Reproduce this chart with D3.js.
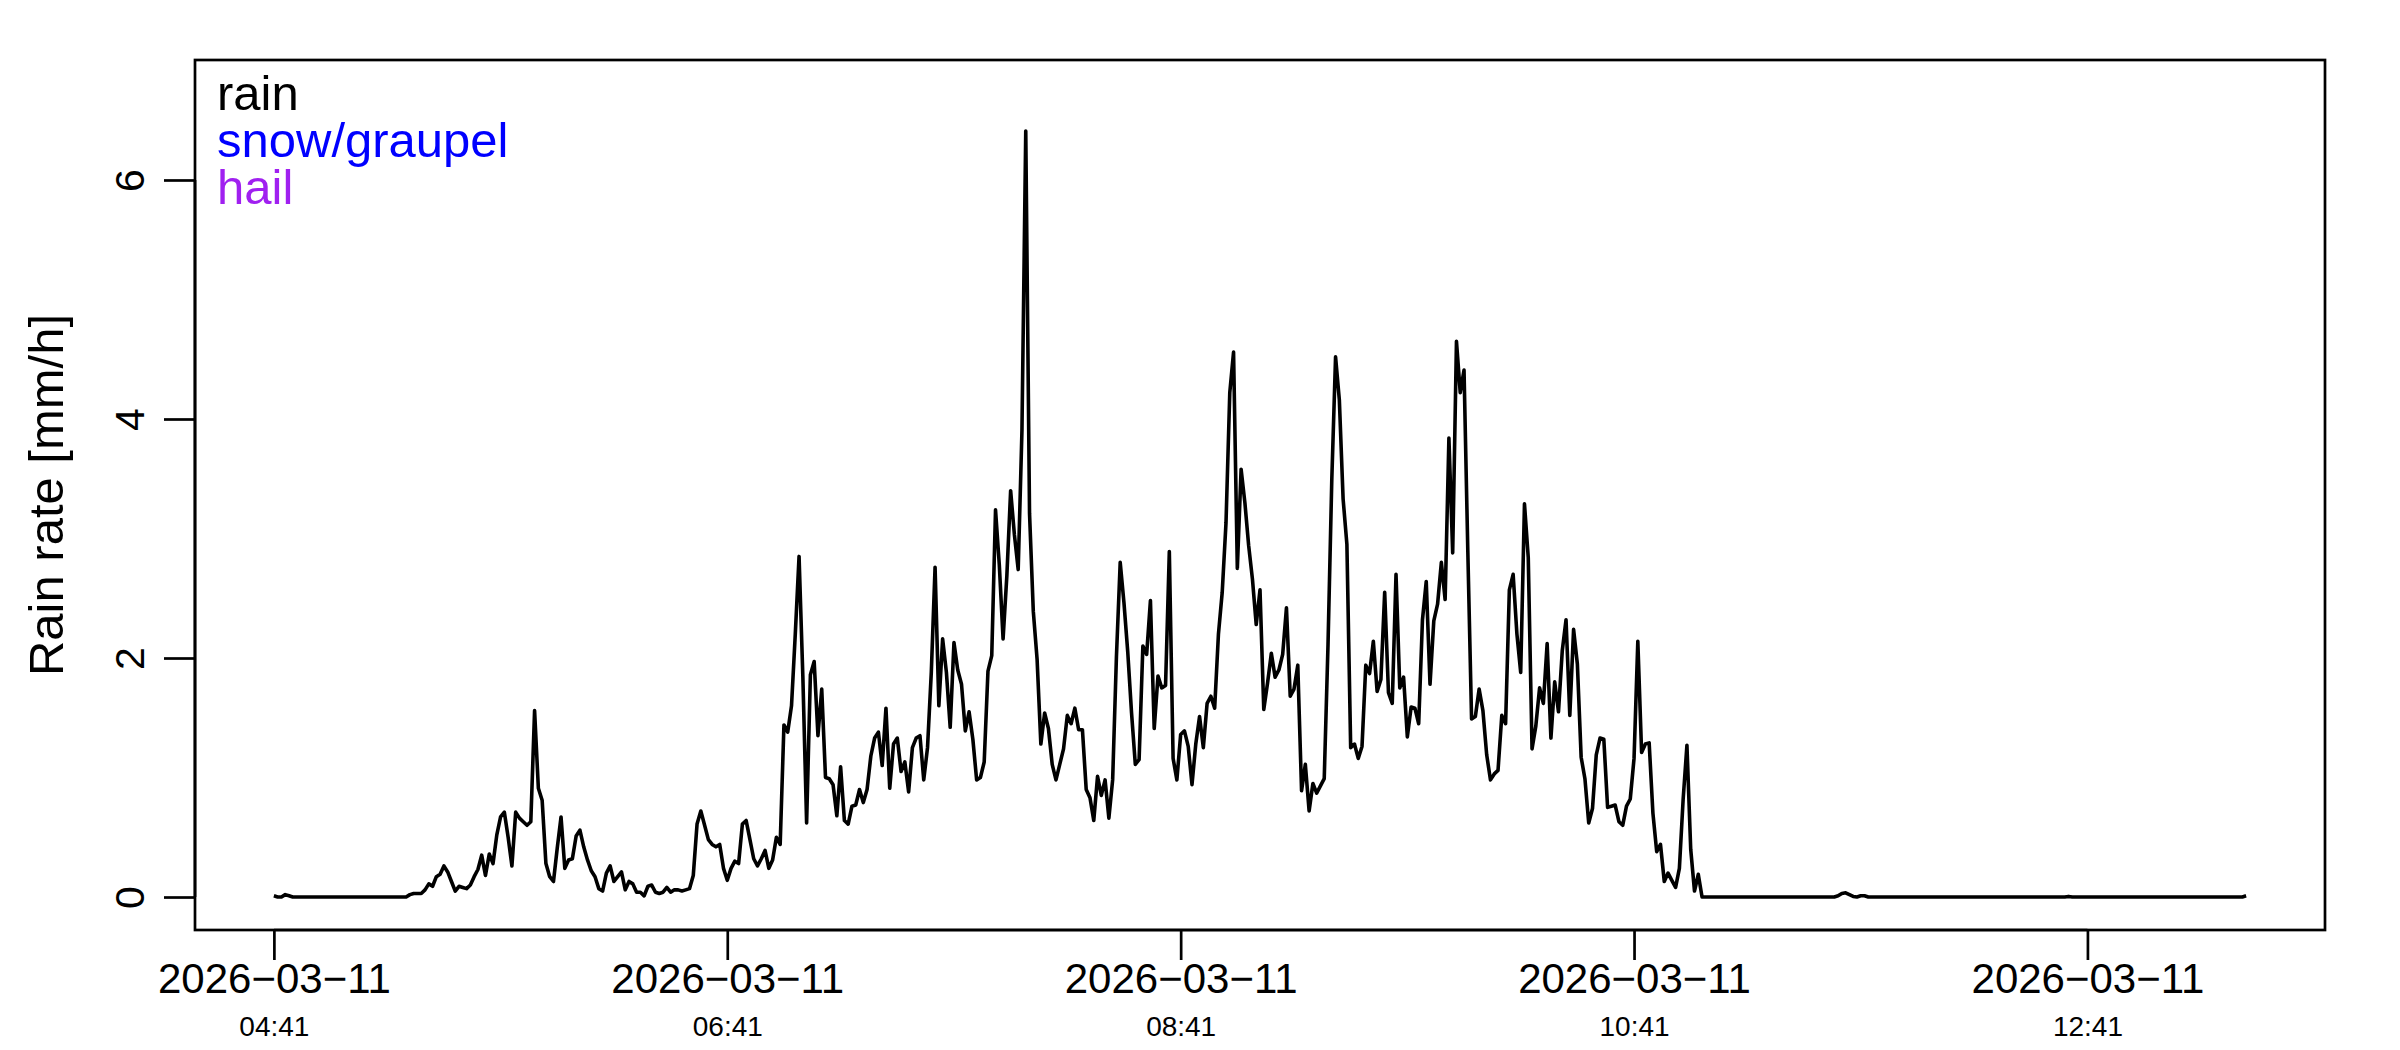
<!DOCTYPE html>
<html>
<head>
<meta charset="utf-8">
<script src="https://cdn.jsdelivr.net/npm/d3@7"></script>
<style>
  body { margin: 0; background: #fff; }
  svg { display: block; font-family: "Liberation Sans", Arial, Helvetica, sans-serif; }
</style>
</head>
<body>
<div id="chart"></div>
<script>
// one reading per minute, starting 2026-03-11 04:41
var startTime = "2026-03-11T04:41:00";
var rainRate = [
  0.01, 0.00, 0.00, 0.02, 0.01, 0, 0, 0, 0, 0,
  0, 0, 0, 0, 0, 0, 0, 0, 0, 0,
  0, 0, 0, 0, 0, 0, 0, 0, 0, 0,
  0, 0, 0, 0, 0, 0, 0.02, 0.03, 0.03, 0.03,
  0.06, 0.11, 0.09, 0.17, 0.19, 0.26, 0.21, 0.13, 0.05, 0.09,
  0.08, 0.07, 0.10, 0.17, 0.23, 0.35, 0.18, 0.36, 0.28, 0.52,
  0.67, 0.71, 0.50, 0.26, 0.71, 0.66, 0.63, 0.60, 0.63, 1.56,
  0.91, 0.81, 0.28, 0.17, 0.13, 0.41, 0.67, 0.24, 0.31, 0.32,
  0.51, 0.56, 0.42, 0.31, 0.22, 0.17, 0.07, 0.05, 0.20, 0.26,
  0.13, 0.17, 0.21, 0.06, 0.13, 0.11, 0.04, 0.04, 0.01, 0.09,
  0.10, 0.04, 0.03, 0.04, 0.08, 0.04, 0.06, 0.06, 0.05, 0.06,
  0.07, 0.18, 0.61, 0.72, 0.60, 0.48, 0.44, 0.42, 0.44, 0.24,
  0.14, 0.24, 0.30, 0.28, 0.61, 0.64, 0.48, 0.32, 0.26, 0.32,
  0.39, 0.24, 0.31, 0.50, 0.44, 1.44, 1.38, 1.60, 2.20, 2.85,
  1.85, 0.62, 1.86, 1.97, 1.35, 1.74, 1.00, 0.99, 0.94, 0.68,
  1.09, 0.64, 0.61, 0.76, 0.77, 0.90, 0.79, 0.90, 1.18, 1.33,
  1.38, 1.10, 1.58, 0.91, 1.28, 1.33, 1.05, 1.13, 0.88, 1.25,
  1.33, 1.35, 0.98, 1.25, 1.88, 2.76, 1.60, 2.16, 1.88, 1.42,
  2.13, 1.90, 1.78, 1.39, 1.55, 1.32, 0.98, 1.00, 1.13, 1.89,
  2.02, 3.24, 2.78, 2.16, 2.69, 3.40, 3.03, 2.74, 3.91, 6.41,
  3.21, 2.39, 1.99, 1.28, 1.54, 1.41, 1.11, 0.98, 1.11, 1.24,
  1.52, 1.45, 1.58, 1.40, 1.40, 0.90, 0.83, 0.64, 1.01, 0.85,
  0.98, 0.66, 0.98, 2.01, 2.80, 2.46, 2.05, 1.54, 1.11, 1.15,
  2.10, 2.03, 2.48, 1.41, 1.85, 1.75, 1.77, 2.89, 1.16, 0.98,
  1.36, 1.39, 1.26, 0.94, 1.28, 1.51, 1.25, 1.62, 1.68, 1.58,
  2.20, 2.55, 3.13, 4.22, 4.56, 2.75, 3.58, 3.30, 2.94, 2.66,
  2.28, 2.57, 1.57, 1.79, 2.04, 1.84, 1.90, 2.03, 2.42, 1.68,
  1.74, 1.94, 0.89, 1.11, 0.72, 0.95, 0.87, 0.93, 0.99, 2.11,
  3.49, 4.52, 4.16, 3.33, 2.95, 1.25, 1.28, 1.16, 1.26, 1.94,
  1.87, 2.14, 1.72, 1.82, 2.55, 1.71, 1.62, 2.70, 1.75, 1.84,
  1.34, 1.59, 1.58, 1.45, 2.32, 2.64, 1.78, 2.31, 2.45, 2.80,
  2.49, 3.84, 2.88, 4.65, 4.22, 4.41, 2.90, 1.49, 1.51, 1.74,
  1.56, 1.19, 0.98, 1.03, 1.06, 1.52, 1.45, 2.57, 2.70, 2.20,
  1.88, 3.29, 2.84, 1.24, 1.43, 1.75, 1.62, 2.12, 1.33, 1.80,
  1.55, 2.06, 2.32, 1.52, 2.24, 1.95, 1.17, 0.99, 0.62, 0.74,
  1.19, 1.33, 1.32, 0.75, 0.76, 0.77, 0.63, 0.60, 0.76, 0.82,
  1.16, 2.14, 1.21, 1.28, 1.29, 0.70, 0.38, 0.44, 0.13, 0.20,
  0.14, 0.08, 0.24, 0.82, 1.27, 0.40, 0.05, 0.19, 0, 0,
  0, 0, 0, 0, 0, 0, 0, 0, 0, 0,
  0, 0, 0, 0, 0, 0, 0, 0, 0, 0,
  0, 0, 0, 0, 0, 0, 0, 0, 0, 0,
  0, 0, 0, 0, 0.01, 0.03, 0.035, 0.02, 0.005, 0,
  0.01, 0.01, 0, 0, 0, 0, 0, 0, 0, 0,
  0, 0, 0, 0, 0, 0, 0, 0, 0, 0,
  0, 0, 0, 0, 0, 0, 0, 0, 0, 0,
  0, 0, 0, 0, 0, 0, 0, 0, 0, 0,
  0, 0, 0, 0, 0, 0, 0, 0, 0, 0,
  0, 0, 0, 0, 0, 0.005, 0, 0, 0, 0,
  0, 0, 0, 0, 0, 0, 0, 0, 0, 0,
  0, 0, 0, 0, 0, 0, 0, 0, 0, 0,
  0, 0, 0, 0, 0, 0, 0, 0, 0, 0,
  0, 0, 0, 0, 0, 0, 0, 0, 0, 0,
  0, 0, 0.01
];
var xTickTimes = ["2026-03-11T04:41:00", "2026-03-11T06:41:00", "2026-03-11T08:41:00",
                  "2026-03-11T10:41:00", "2026-03-11T12:41:00"];
var yTicks = [0, 2, 4, 6];
var legendLabels = ["rain", "snow/graupel", "hail"];
var legendColors = ["#000000", "#0000ff", "#a020f0"];
var yLabel = "Rain rate [mm/h]";

var width = 2400, height = 1050;
var box = { left: 195, right: 2325, top: 60, bottom: 930 };

var parseTime = d3.timeParse("%Y-%m-%dT%H:%M:%S");
var t0 = parseTime(startTime);
var series = rainRate.map(function(v, i) {
    return { time: d3.timeMinute.offset(t0, i), value: v };
});

// R style: 4% padding each side of the data range
var tExtent = d3.extent(series, function(d) { return d.time; });
var span = tExtent[1] - tExtent[0];
var xScale = d3.scaleTime()
    .domain([new Date(+tExtent[0] - span * 0.04), new Date(+tExtent[1] + span * 0.04)])
    .range([box.left, box.right]);

var yScale = d3.scaleLinear()
    .domain([-0.276, 7.004])
    .range([box.bottom, box.top]);

var svg = d3.select("#chart").append("svg")
    .attr("width", width)
    .attr("height", height);

// rain line
var line = d3.line()
    .x(function(d) { return xScale(d.time); })
    .y(function(d) { return yScale(d.value); });

svg.append("path")
    .datum(series)
    .attr("d", line)
    .attr("fill", "none")
    .attr("stroke", "#000")
    .attr("stroke-width", 3.6)
    .attr("stroke-linejoin", "round");

// plot frame
svg.append("rect")
    .attr("x", box.left)
    .attr("y", box.top)
    .attr("width", box.right - box.left)
    .attr("height", box.bottom - box.top)
    .attr("fill", "none")
    .attr("stroke", "#000")
    .attr("stroke-width", 2.7);

// X axis
var xTicks = xTickTimes.map(parseTime);
var fmtDate = d3.timeFormat("%Y\u2212%m\u2212%d");
var fmtClock = d3.timeFormat("%H:%M");

var xAxis = svg.append("g")
    .attr("transform", "translate(0," + box.bottom + ")")
    .call(d3.axisBottom(xScale).tickValues(xTicks).tickSize(30).tickSizeOuter(0));
xAxis.select(".domain").remove();
xAxis.selectAll(".tick line").attr("stroke-width", 2.7);
xAxis.append("line")
    .attr("x1", xScale(xTicks[0]))
    .attr("x2", xScale(xTicks[xTicks.length - 1]))
    .attr("stroke", "#000")
    .attr("stroke-width", 2.7);
xAxis.selectAll(".tick text").each(function(d) {
    var t = d3.select(this).text(null).attr("dy", null).attr("y", null)
        .attr("fill", "#000");
    t.append("tspan").attr("x", 0).attr("y", 63)
        .style("font-size", "42px").text(fmtDate(d));
    t.append("tspan").attr("x", 0).attr("y", 106)
        .style("font-size", "28px").text(fmtClock(d));
});

// Y axis
var yAxis = svg.append("g")
    .attr("transform", "translate(" + box.left + ",0)")
    .call(d3.axisLeft(yScale).tickValues(yTicks).tickSize(31).tickSizeOuter(0));
yAxis.select(".domain").remove();
yAxis.selectAll(".tick line").attr("stroke-width", 2.7);
yAxis.append("line")
    .attr("y1", yScale(yTicks[0]))
    .attr("y2", yScale(yTicks[yTicks.length - 1]))
    .attr("stroke", "#000")
    .attr("stroke-width", 2.7);
yAxis.selectAll(".tick text")
    .attr("x", null).attr("dy", null)
    .attr("transform", "translate(-51,0) rotate(-90)")
    .attr("text-anchor", "middle")
    .attr("fill", "#000")
    .style("font-size", "41px");

// Y label
svg.append("text")
    .attr("transform", "translate(63," + ((box.top + box.bottom) / 2) + ") rotate(-90)")
    .attr("text-anchor", "middle")
    .style("font-size", "49px")
    .text(yLabel);

// legend, top left inside the frame
svg.selectAll(".legend")
    .data(legendLabels)
    .enter().append("text")
    .attr("class", "legend")
    .attr("x", 217)
    .attr("y", function(d, i) { return 110 + i * 47; })
    .attr("fill", function(d, i) { return legendColors[i]; })
    .style("font-size", "49px")
    .text(function(d) { return d; });
</script>
</body>
</html>
